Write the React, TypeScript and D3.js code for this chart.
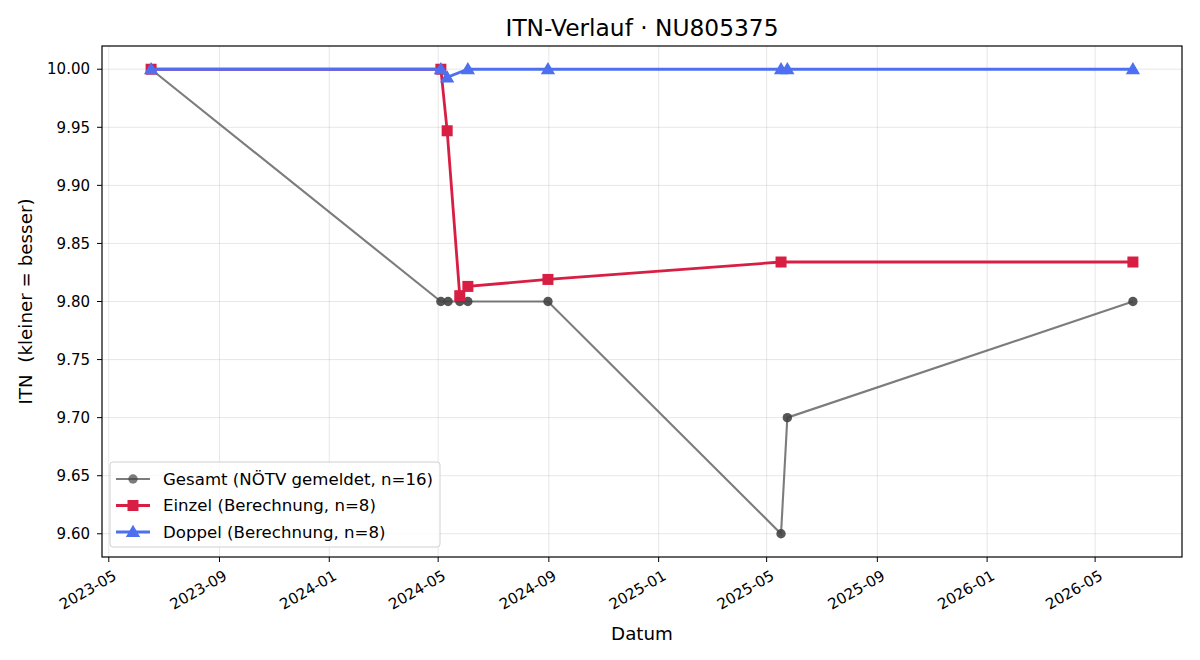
import React, { useEffect, useRef } from "react";
import * as d3 from "d3";

// ITN history per date
const gesamtDates = ["2023-06-17", "2024-05-04", "2024-05-12", "2024-05-25", "2024-06-03", "2024-08-31", "2025-05-17", "2025-05-24", "2026-06-12"];
const gesamtValues = [10.0, 9.8, 9.8, 9.8, 9.8, 9.8, 9.6, 9.7, 9.8];

const einzelDates = ["2023-06-17", "2024-05-04", "2024-05-11", "2024-05-25", "2024-06-03", "2024-08-31", "2025-05-17", "2026-06-12"];
const einzelValues = [10.0, 10.0, 9.947, 9.805, 9.813, 9.819, 9.834, 9.834];

const doppelDates = ["2023-06-17", "2024-05-04", "2024-05-11", "2024-06-03", "2024-08-31", "2025-05-17", "2025-05-24", "2026-06-12"];
const doppelValues = [10.0, 10.0, 9.993, 10.0, 10.0, 10.0, 10.0, 10.0];

const yTicks = [9.6, 9.65, 9.7, 9.75, 9.8, 9.85, 9.9, 9.95, 10.0];

const legendLabels = ["Gesamt (NÖTV gemeldet, n=16)", "Einzel (Berechnung, n=8)", "Doppel (Berechnung, n=8)"];

const W = 1200;
const H = 660;
const M = { left: 102, right: 18, top: 46, bottom: 103 };
const FONT = "DejaVu Sans, sans-serif";

const GRAY = "#444444";
const RED = "#d81e42";
const BLUE = "#4d6ff0";

export default function App() {
  const ref = useRef<SVGSVGElement>(null);

  useEffect(() => {
    document.body.style.margin = "0";
    const svg = d3.select(ref.current);
    svg.selectAll("*").remove();

    const parse = d3.utcParse("%Y-%m-%d");
    const toPts = (ds: string[], vs: number[]) => ds.map((d, i) => ({ date: parse(d) as Date, v: vs[i] }));
    const gesamt = toPts(gesamtDates, gesamtValues);
    const einzel = toPts(einzelDates, einzelValues);
    const doppel = toPts(doppelDates, doppelValues);

    const all = [...gesamt, ...einzel, ...doppel];
    const [t0, t1] = d3.extent(all, (p) => +p.date) as [number, number];
    const tPad = (t1 - t0) * 0.05;
    const [v0, v1] = d3.extent(all, (p) => p.v) as [number, number];
    const vPad = (v1 - v0) * 0.05;

    const x = d3
      .scaleUtc()
      .domain([new Date(t0 - tPad), new Date(t1 + tPad)])
      .range([M.left, W - M.right]);
    const y = d3
      .scaleLinear()
      .domain([v0 - vPad, v1 + vPad])
      .range([H - M.bottom, M.top]);

    const xTicks = x.ticks(d3.utcMonth.every(4) as d3.TimeInterval);
    const fmt = d3.utcFormat("%Y-%m");

    // grid
    const grid = svg.append("g");
    grid
      .selectAll("line.gx")
      .data(xTicks)
      .join("line")
      .attr("x1", (d) => x(d))
      .attr("x2", (d) => x(d))
      .attr("y1", M.top)
      .attr("y2", H - M.bottom)
      .attr("stroke", "#b0b0b0")
      .attr("stroke-opacity", 0.3)
      .attr("stroke-width", 1);
    grid
      .selectAll("line.gy")
      .data(yTicks)
      .join("line")
      .attr("x1", M.left)
      .attr("x2", W - M.right)
      .attr("y1", (d) => y(d))
      .attr("y2", (d) => y(d))
      .attr("stroke", "#b0b0b0")
      .attr("stroke-opacity", 0.3)
      .attr("stroke-width", 1);

    const line = d3
      .line<{ date: Date; v: number }>()
      .x((p) => x(p.date))
      .y((p) => y(p.v));

    // Gesamt
    svg
      .append("path")
      .datum(gesamt)
      .attr("d", line)
      .attr("fill", "none")
      .attr("stroke", GRAY)
      .attr("stroke-opacity", 0.7)
      .attr("stroke-width", 2.1);
    svg
      .append("g")
      .selectAll("circle")
      .data(gesamt)
      .join("circle")
      .attr("cx", (p) => x(p.date))
      .attr("cy", (p) => y(p.v))
      .attr("r", 4.7)
      .attr("fill", GRAY)
      .attr("fill-opacity", 0.9);

    // Einzel
    svg
      .append("path")
      .datum(einzel)
      .attr("d", line)
      .attr("fill", "none")
      .attr("stroke", RED)
      .attr("stroke-width", 2.8);
    svg
      .append("g")
      .selectAll("rect")
      .data(einzel)
      .join("rect")
      .attr("x", (p) => x(p.date) - 5.5)
      .attr("y", (p) => y(p.v) - 5.5)
      .attr("width", 11)
      .attr("height", 11)
      .attr("fill", RED);

    // Doppel
    const tri = d3.symbol().type(d3.symbolTriangle).size(88);
    svg
      .append("path")
      .datum(doppel)
      .attr("d", line)
      .attr("fill", "none")
      .attr("stroke", BLUE)
      .attr("stroke-width", 2.8);
    svg
      .append("g")
      .selectAll("path")
      .data(doppel)
      .join("path")
      .attr("d", tri() as string)
      .attr("transform", (p) => `translate(${x(p.date)},${y(p.v) + 1})`)
      .attr("fill", BLUE);

    // frame
    svg
      .append("rect")
      .attr("x", M.left)
      .attr("y", M.top)
      .attr("width", W - M.left - M.right)
      .attr("height", H - M.top - M.bottom)
      .attr("fill", "none")
      .attr("stroke", "#000")
      .attr("stroke-width", 1.2);

    // y axis ticks
    const yt = svg.append("g");
    yTicks.forEach((t) => {
      yt.append("line")
        .attr("x1", M.left - 5)
        .attr("x2", M.left)
        .attr("y1", y(t))
        .attr("y2", y(t))
        .attr("stroke", "#000")
        .attr("stroke-width", 1);
      yt.append("text")
        .attr("x", M.left - 12)
        .attr("y", y(t))
        .attr("dy", "0.35em")
        .attr("text-anchor", "end")
        .attr("font-family", FONT)
        .attr("font-size", 15)
        .attr("fill", "#000")
        .text(t.toFixed(2));
    });

    // x axis ticks
    const xt = svg.append("g");
    xTicks.forEach((t) => {
      const px = x(t);
      xt.append("line")
        .attr("x1", px)
        .attr("x2", px)
        .attr("y1", H - M.bottom)
        .attr("y2", H - M.bottom + 5)
        .attr("stroke", "#000")
        .attr("stroke-width", 1);
      xt.append("text")
        .attr("transform", `translate(${px + 3},${H - M.bottom + 12}) rotate(-30)`)
        .attr("text-anchor", "end")
        .attr("dy", "0.75em")
        .attr("font-family", FONT)
        .attr("font-size", 15)
        .attr("fill", "#000")
        .text(fmt(t));
    });

    // labels
    svg
      .append("text")
      .attr("x", (M.left + W - M.right) / 2)
      .attr("y", 640)
      .attr("text-anchor", "middle")
      .attr("font-family", FONT)
      .attr("font-size", 18.3)
      .text("Datum");
    svg
      .append("text")
      .attr("transform", `translate(32,${(M.top + H - M.bottom) / 2}) rotate(-90)`)
      .attr("text-anchor", "middle")
      .attr("font-family", FONT)
      .attr("font-size", 18.3)
      .attr("xml:space", "preserve")
      .style("white-space", "pre")
      .text("ITN  (kleiner = besser)");
    svg
      .append("text")
      .attr("x", (M.left + W - M.right) / 2)
      .attr("y", 36)
      .attr("text-anchor", "middle")
      .attr("font-family", FONT)
      .attr("font-size", 23.3)
      .text("ITN-Verlauf · NU805375");

    // legend
    const lg = svg.append("g");
    lg.append("rect")
      .attr("x", 110)
      .attr("y", 462)
      .attr("width", 330)
      .attr("height", 85)
      .attr("rx", 3)
      .attr("fill", "#fff")
      .attr("fill-opacity", 0.8)
      .attr("stroke", "#d0d0d0")
      .attr("stroke-width", 1);
    const rows = [479, 505.5, 532];
    rows.forEach((ry, i) => {
      const c = i === 0 ? GRAY : i === 1 ? RED : BLUE;
      lg.append("line")
        .attr("x1", 116)
        .attr("x2", 150)
        .attr("y1", ry)
        .attr("y2", ry)
        .attr("stroke", c)
        .attr("stroke-opacity", i === 0 ? 0.7 : 1)
        .attr("stroke-width", i === 0 ? 2.1 : 2.8);
      if (i === 0) {
        lg.append("circle").attr("cx", 133).attr("cy", ry).attr("r", 4.7).attr("fill", GRAY).attr("fill-opacity", 0.7);
      } else if (i === 1) {
        lg.append("rect").attr("x", 127.5).attr("y", ry - 5.5).attr("width", 11).attr("height", 11).attr("fill", RED);
      } else {
        lg.append("path").attr("d", tri() as string).attr("transform", `translate(133,${ry + 1})`).attr("fill", BLUE);
      }
      lg.append("text")
        .attr("x", 163)
        .attr("y", ry)
        .attr("dy", "0.35em")
        .attr("font-family", FONT)
        .attr("font-size", 16.6)
        .text(legendLabels[i]);
    });
  }, []);

  return (
    <svg
      ref={ref}
      width={W}
      height={H}
      style={{ display: "block", position: "absolute", left: 0, top: 0, background: "#fff" }}
    />
  );
}
